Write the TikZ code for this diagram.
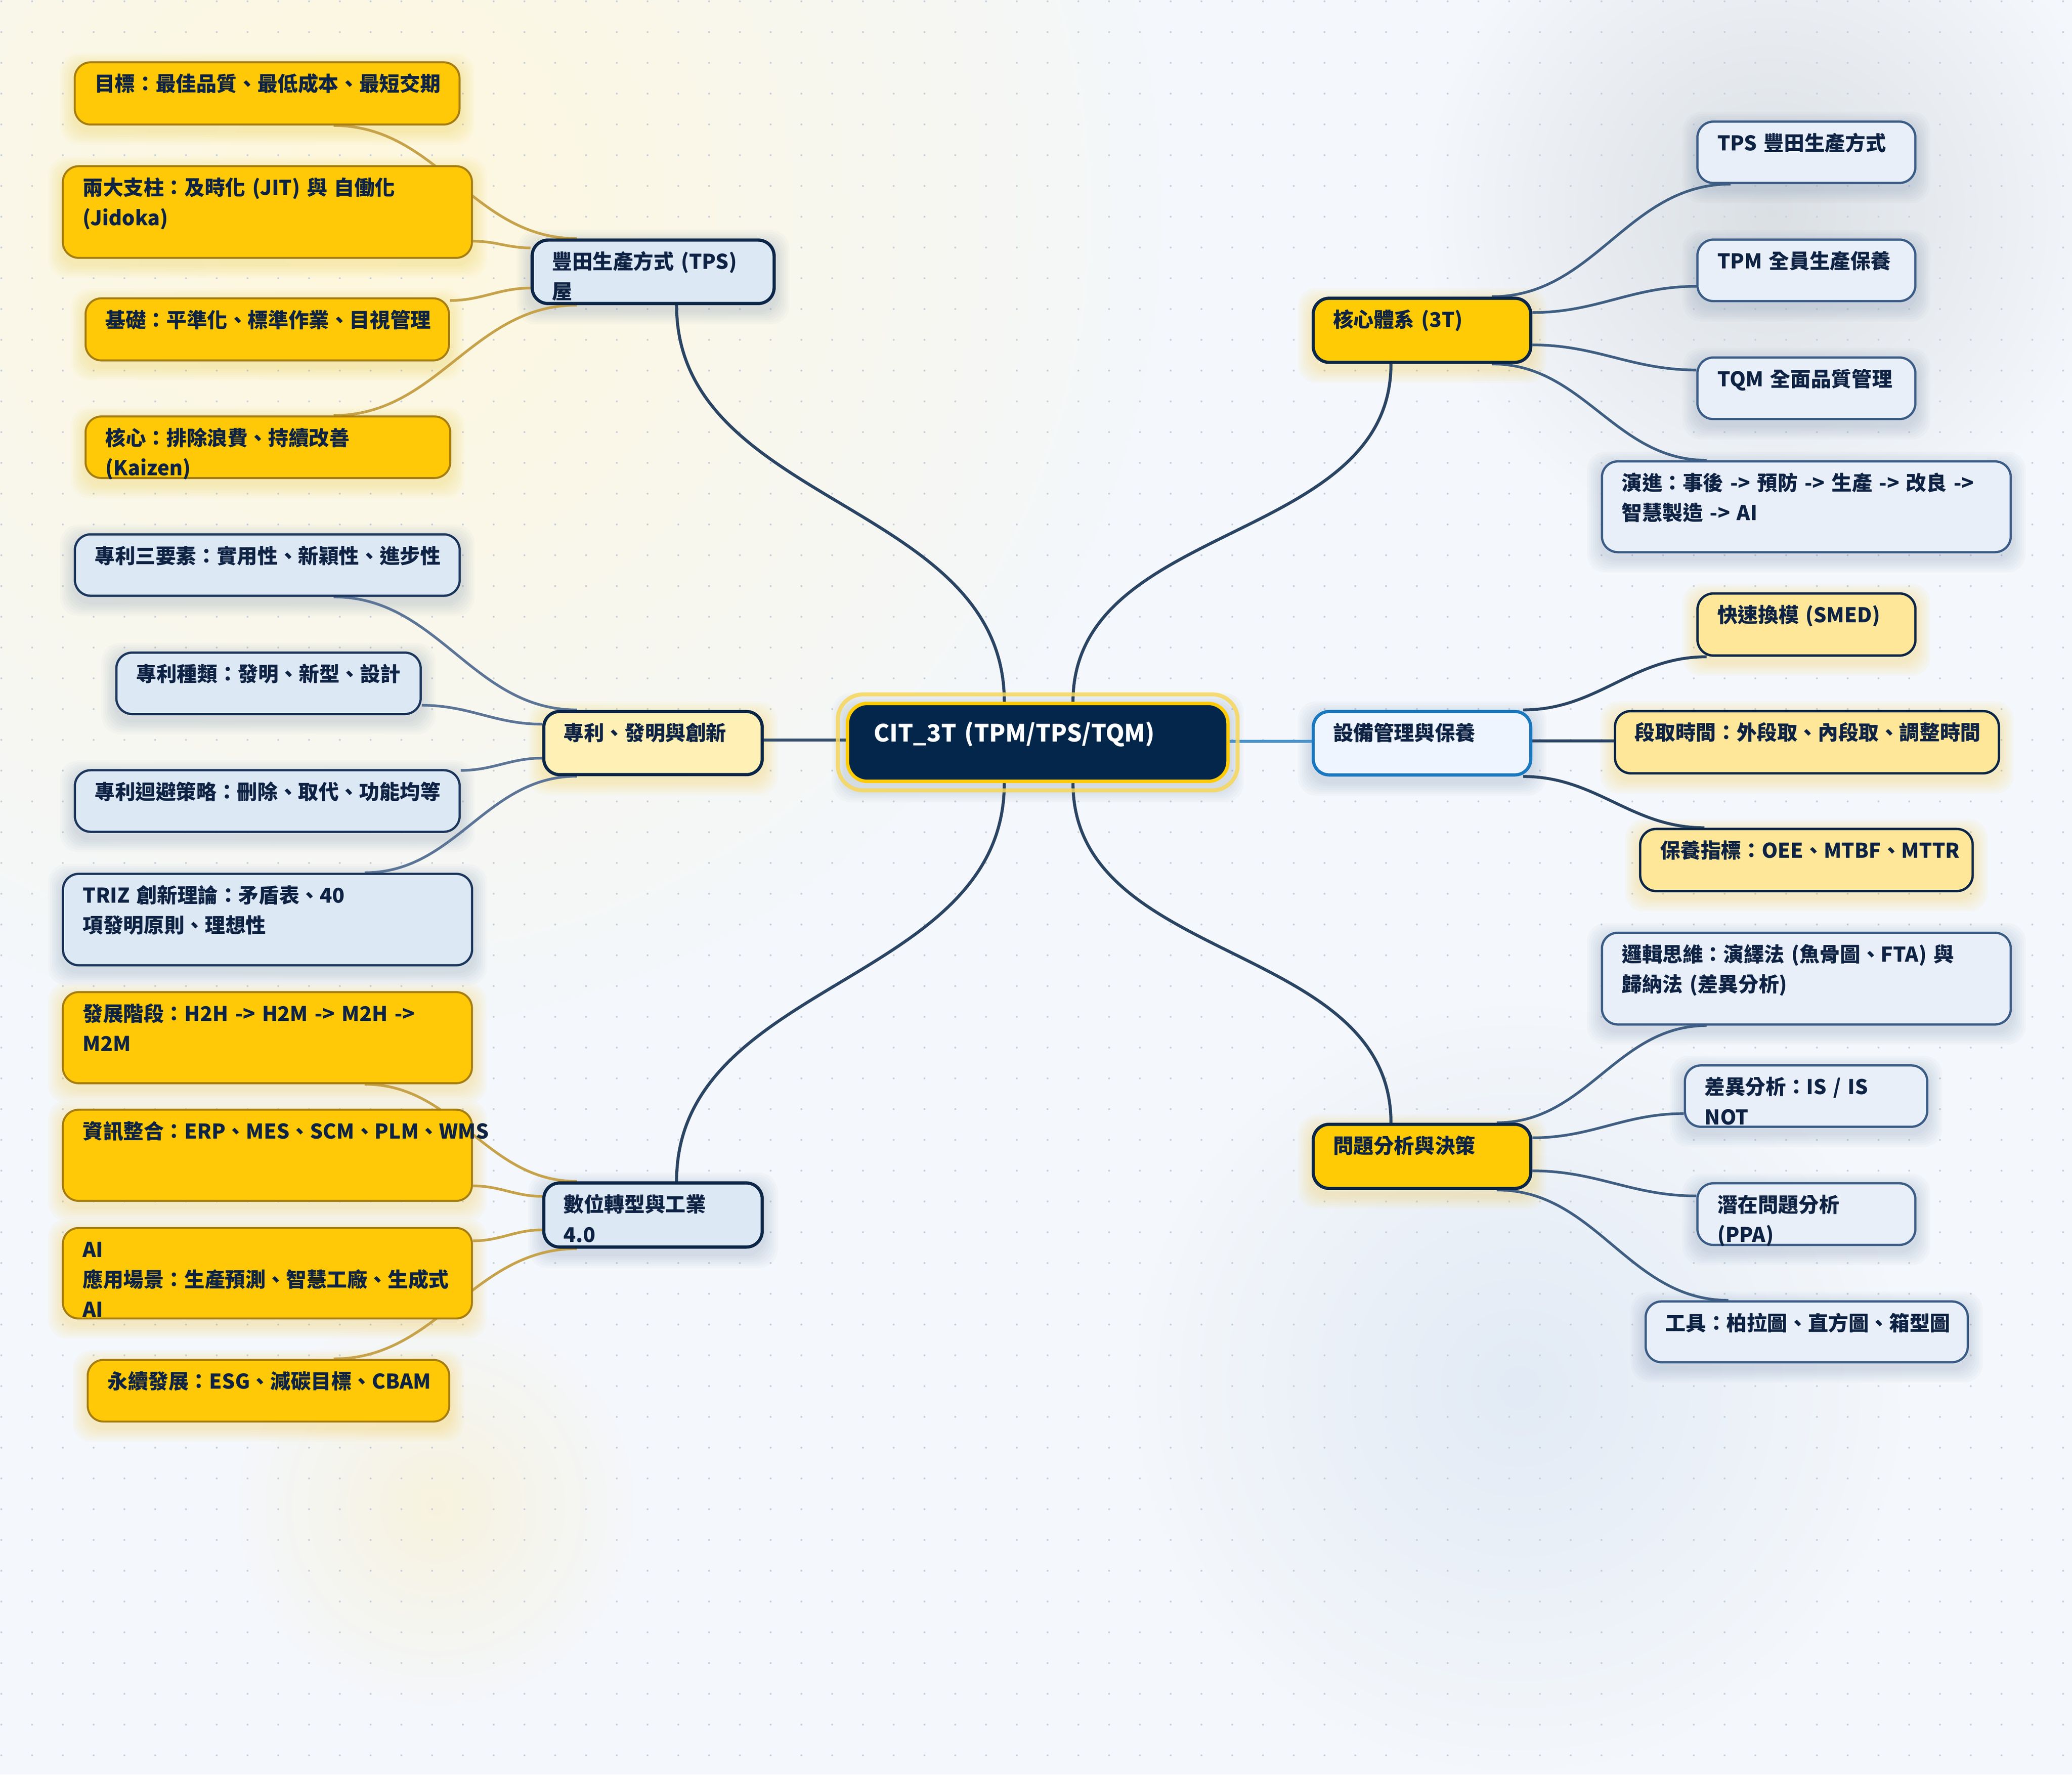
\documentclass[tikz,border=0pt]{standalone}
\usepackage{fontspec}
\setmainfont{Noto Sans CJK TC}
\usetikzlibrary{fadings}
\pgfdeclarelayer{bg}\pgfdeclarelayer{shadow}\pgfdeclarelayer{edges}\pgfdeclarelayer{halo}
\pgfsetlayers{bg,shadow,edges,halo,main}
\definecolor{bgbase}{HTML}{F4F7FB}
\definecolor{glowA}{HTML}{FFF8DC}
\definecolor{glowB}{HTML}{D8DDE1}
\definecolor{glowC}{HTML}{D6E2F1}
\definecolor{glowD}{HTML}{FAF0CC}
\definecolor{navy}{HTML}{0C2647}
\definecolor{txt}{HTML}{0E2344}
\definecolor{gold}{HTML}{FFC907}
\definecolor{goldline}{HTML}{A67D10}
\definecolor{paleyel}{HTML}{FFF0B5}
\definecolor{yelleaf}{HTML}{FFE79A}
\definecolor{paleblue}{HTML}{DDE8F5}
\definecolor{patedge}{HTML}{1C365C}
\definecolor{leafblue}{HTML}{E8EFF8}
\definecolor{leafedge}{HTML}{3B5C86}
\definecolor{equipfill}{HTML}{EEF5FE}
\definecolor{equipedge}{HTML}{1A78BF}
\definecolor{centerfill}{HTML}{03264A}
\definecolor{yellowmain}{HTML}{FFCB05}
\definecolor{halocol}{HTML}{F7D75A}
\definecolor{tanlink}{HTML}{C6A24A}
\definecolor{slatelink}{HTML}{5C7597}
\definecolor{slatetwo}{HTML}{3F5E82}
\definecolor{darkedge}{HTML}{2A4463}
\definecolor{leftlink}{HTML}{37506B}
\definecolor{bluelink}{HTML}{4A93CD}
\definecolor{dotc}{HTML}{C8D0DB}
\definecolor{shblue}{HTML}{6E88AA}
\definecolor{shyel}{HTML}{F5C518}
\tikzfading[name=softglow, inner color=transparent!0, outer color=transparent!100]
\tikzset{
  box/.style={rounded corners=12pt, inner xsep=15pt, inner ysep=0pt, text height=22pt,
    align=left, font=\fontsize{15.4}{22.7}\selectfont\bfseries, text=txt},
  mainbox/.style={box, line width=2.4pt, draw=navy},
  yelmain/.style={mainbox, fill=yellowmain},
  bluemain/.style={mainbox, fill=paleblue},
  patmain/.style={mainbox, fill=paleyel},
  equipmain/.style={mainbox, fill=equipfill, draw=equipedge},
  goldleaf/.style={box, fill=gold, draw=goldline, line width=1.5pt},
  patleaf/.style={box, fill=paleblue, draw=patedge, line width=1.7pt},
  blueleaf/.style={box, fill=leafblue, draw=leafedge, line width=1.7pt},
  yelleafbox/.style={box, fill=yelleaf, draw=navy, line width=1.8pt},
  tanlk/.style={draw=tanlink, line width=2pt},
  slatelk/.style={draw=slatelink, line width=2pt},
  slatetwolk/.style={draw=slatetwo, line width=2pt},
  darklk/.style={draw=darkedge, line width=2.2pt},
  mainlk/.style={draw=darkedge, line width=2.3pt},
}
\newcommand\mbx[7]{\pgfmathsetmacro\tw{#5-30}\pgfmathsetmacro\td{#6-22}%
  \node[#2,anchor=north west,text width=\tw pt,text depth=\td pt] (#1) at (#3,-#4) {#7};}
\newcommand\nsh[2]{\begin{pgfonlayer}{shadow}\foreach \k in {1.5,3,...,10.5}{%
  \fill[#2,opacity=0.035,rounded corners=14pt] ([xshift={-\k*1pt},yshift={(\k-4)*1pt}]#1.north west)
   rectangle ([xshift={\k*1pt},yshift={(-\k-4)*1pt}]#1.south east);}\end{pgfonlayer}}
\begin{document}
\begin{tikzpicture}[x=1pt,y=1pt]
\useasboundingbox (0,0) rectangle (1568,-1343);
\begin{pgfonlayer}{bg}
\fill[bgbase] (0,0) rectangle (1568,-1343);
\fill[glowA, path fading=softglow] (260,-160) circle (620);
\fill[glowB, path fading=softglow, opacity=0.9] (1340,-160) circle (260);
\fill[glowC, path fading=softglow, opacity=0.6] (1150,-1050) circle (290);
\fill[glowD, path fading=softglow, opacity=0.6] (330,-1140) circle (150);
\foreach \i in {0,...,67}{\foreach \j in {0,...,57}{\fill[dotc] (1+\i*23.287,-1-\j*23.287) circle (0.75pt);}}
\end{pgfonlayer}

% center
\node[anchor=north west, fill=centerfill, draw=yellowmain, line width=2.6pt, rounded corners=15pt,
  inner xsep=20pt, inner ysep=0pt, text width=248pt, text height=29pt, text depth=30pt, text=white,
  font=\fontsize{18}{24}\selectfont\bfseries, align=left] (center) at (640,-531) {CIT\_3T (TPM/TPS/TQM)};
\begin{pgfonlayer}{halo}
\draw[halocol, line width=3pt, opacity=0.85, rounded corners=19pt] ([xshift=-6pt,yshift=5.5pt]center.north west) rectangle ([xshift=6pt,yshift=-5.5pt]center.south east);
\end{pgfonlayer}

% main branches
\mbx{house}{bluemain}{401.5}{180.5}{183.1}{48}{\mbox{豐田生產方式 (TPS)}\\\mbox{屋}}
\mbx{core}{yelmain}{992.6}{224.5}{164.6}{48.5}{\mbox{核心體系 (3T)}}
\mbx{patent}{patmain}{410.3}{537.2}{165.3}{47.8}{\mbox{專利、發明與創新}}
\mbx{equip}{equipmain}{992.6}{537.2}{164.6}{48}{\mbox{設備管理與保養}}
\mbx{digital}{bluemain}{410.3}{894}{165.3}{48.5}{\mbox{數位轉型與工業}\\\mbox{4.0}}
\mbx{problem}{yelmain}{992.6}{849.6}{164.6}{48.5}{\mbox{問題分析與決策}}

% TPS leaves
\mbx{t1}{goldleaf}{55.8}{46.4}{291.2}{47.1}{\mbox{目標：最佳品質、最低成本、最短交期}}
\mbx{t2}{goldleaf}{46.8}{125}{309.6}{69.4}{\mbox{兩大支柱：及時化 (JIT) 與 自働化}\\\mbox{(Jidoka)}}
\mbx{t3}{goldleaf}{64}{225}{275}{47}{\mbox{基礎：平準化、標準作業、目視管理}}
\mbx{t4}{goldleaf}{64}{314.4}{276}{46.6}{\mbox{核心：排除浪費、持續改善}\\\mbox{(Kaizen)}}
% patent leaves
\mbx{p1}{patleaf}{55.8}{403.5}{291.2}{46.5}{\mbox{專利三要素：實用性、新穎性、進步性}}
\mbx{p2}{patleaf}{87.2}{493}{230.3}{46.5}{\mbox{專利種類：發明、新型、設計}}
\mbx{p3}{patleaf}{55.8}{582}{291.2}{46.6}{\mbox{專利迴避策略：刪除、取代、功能均等}}
\mbx{p4}{patleaf}{46.8}{660.4}{309.6}{69.2}{\mbox{TRIZ 創新理論：矛盾表、40}\\\mbox{項發明原則、理想性}}
% digital leaves
\mbx{d1}{goldleaf}{46.8}{750}{309.6}{69}{\mbox{發展階段：H2H -> H2M -> M2H ->}\\\mbox{M2M}}
\mbx{d2}{goldleaf}{46.8}{839}{309.6}{69}{\mbox{資訊整合：ERP、MES、SCM、PLM、WMS}}
\mbx{d3}{goldleaf}{46.8}{928.5}{309.6}{68.5}{\mbox{AI}\\\mbox{應用場景：生產預測、智慧工廠、生成式}\\\mbox{AI}}
\mbx{d4}{goldleaf}{65.6}{1028.3}{273.6}{46.7}{\mbox{永續發展：ESG、減碳目標、CBAM}}
% 3T leaves
\mbx{r1}{blueleaf}{1283.7}{91.2}{164.9}{46.4}{\mbox{TPS 豐田生產方式}}
\mbx{r2}{blueleaf}{1283.7}{180.5}{164.9}{46.5}{\mbox{TPM 全員生產保養}}
\mbx{r3}{blueleaf}{1283.7}{269.7}{164.9}{46.6}{\mbox{TQM 全面品質管理}}
\mbx{r4}{blueleaf}{1211.4}{348.3}{309.4}{68.7}{\mbox{演進：事後 -> 預防 -> 生產 -> 改良 ->}\\\mbox{智慧製造 -> AI}}
% equipment leaves
\mbx{e1}{yelleafbox}{1283.7}{448.2}{164.9}{47}{\mbox{快速換模 (SMED)}}
\mbx{e2}{yelleafbox}{1221.2}{537.2}{290.6}{47.1}{\mbox{段取時間：外段取、內段取、調整時間}}
\mbx{e3}{yelleafbox}{1240.3}{626.4}{251.6}{47}{\mbox{保養指標：OEE、MTBF、MTTR}}
% problem leaves
\mbx{q1}{blueleaf}{1211.4}{705}{309.4}{69.4}{\mbox{邏輯思維：演繹法 (魚骨圖、FTA) 與}\\\mbox{歸納法 (差異分析)}}
\mbx{q2}{blueleaf}{1274.2}{805.4}{183.4}{46.4}{\mbox{差異分析：IS / IS}\\\mbox{NOT}}
\mbx{q3}{blueleaf}{1283.7}{894.6}{164.9}{46.6}{\mbox{潛在問題分析}\\\mbox{(PPA)}}
\mbx{q4}{blueleaf}{1244.5}{984}{243.8}{46}{\mbox{工具：柏拉圖、直方圖、箱型圖}}

% shadows
\foreach \n in {house,digital,p1,p2,p3,p4,r1,r2,r3,r4,q1,q2,q3,q4,equip}{\nsh{\n}{shblue}}
\foreach \n in {core,problem,patent,t1,t2,t3,t4,d1,d2,d3,d4,e1,e2,e3}{\nsh{\n}{shyel}}
\nsh{center}{shblue}

\begin{pgfonlayer}{edges}
% center links
\draw[mainlk] ([xshift=110.5pt]house.south west) to[out=-90,in=90] ([xshift=120pt]center.north west);
\draw[mainlk] ([xshift=60pt]core.south west) to[out=-90,in=90] ([xshift=172pt]center.north west);
\draw[mainlk] ([xshift=101.7pt]digital.north west) to[out=90,in=-90] ([xshift=120pt]center.south west);
\draw[mainlk] ([xshift=60pt]problem.north west) to[out=90,in=-90] ([xshift=172pt]center.south west);
\draw[draw=leftlink, line width=2.5pt] ([yshift=-22.8pt]patent.north east) -- ([yshift=-29pt]center.north west);
\draw[draw=bluelink, line width=2.5pt] ([yshift=-30pt]center.north east) -- ([yshift=-23.8pt]equip.north west);
% TPS
\draw[tanlk] ([xshift=196.7pt]t1.south west) to[out=0,in=180] ([xshift=35pt]house.north west);
\draw[tanlk] ([yshift=-57.5pt]t2.north east) to[out=0,in=180] ([yshift=-7.1pt]house.north west);
\draw[tanlk] ([yshift=-2.4pt]t3.north east) to[out=0,in=180] ([yshift=-37.5pt]house.north west);
\draw[tanlk] ([xshift=188.5pt]t4.north west) to[out=0,in=180] ([xshift=35pt]house.south west);
% patent
\draw[slatelk] ([xshift=196.7pt]p1.south west) to[out=0,in=180] ([xshift=26.3pt]patent.north west);
\draw[slatelk] ([yshift=-40.7pt]p2.north east) to[out=0,in=180] ([yshift=-10.8pt]patent.north west);
\draw[slatelk] ([yshift=-1pt]p3.north east) to[out=0,in=180] ([yshift=-36.5pt]patent.north west);
\draw[slatelk] ([xshift=229.2pt]p4.north west) to[out=0,in=180] ([xshift=26.3pt]patent.south west);
% digital
\draw[tanlk] ([xshift=229.2pt]d1.south west) to[out=0,in=180] ([xshift=26.3pt]digital.north west);
\draw[tanlk] ([yshift=-58.4pt]d2.north east) to[out=0,in=180] ([yshift=-11.3pt]digital.north west);
\draw[tanlk] ([yshift=-10.5pt]d3.north east) to[out=0,in=180] ([yshift=-36.7pt]digital.north west);
\draw[tanlk] ([xshift=186.9pt]d4.north west) to[out=0,in=180] ([xshift=26.3pt]digital.south west);
% 3T
\draw[slatetwolk] ([xshift=136.4pt]core.north west) to[out=0,in=180] ([xshift=25.9pt]r1.south west);
\draw[slatetwolk] ([yshift=-12pt]core.north east) to[out=0,in=180] ([yshift=-36.2pt]r2.north west);
\draw[slatetwolk] ([yshift=-36.5pt]core.north east) to[out=0,in=180] ([yshift=-10.3pt]r3.north west);
\draw[slatetwolk] ([xshift=136.4pt]core.south west) to[out=0,in=180] ([xshift=80.1pt]r4.north west);
% equipment
\draw[darklk] ([xshift=160pt]equip.north west) to[out=0,in=180] ([xshift=7.8pt]e1.south west);
\draw[darklk] ([yshift=-23.5pt]equip.north east) -- ([yshift=-23.5pt]e2.north west);
\draw[darklk] ([xshift=160pt]equip.south west) to[out=0,in=180] ([xshift=49.5pt]e3.north west);
% problem
\draw[slatetwolk] ([xshift=140.1pt]problem.north west) to[out=0,in=180] ([xshift=80.1pt]q1.south west);
\draw[slatetwolk] ([yshift=-11.4pt]problem.north east) to[out=0,in=180] ([yshift=-37.3pt]q2.north west);
\draw[slatetwolk] ([yshift=-36.4pt]problem.north east) to[out=0,in=180] ([yshift=-10.4pt]q3.north west);
\draw[slatetwolk] ([xshift=140.1pt]problem.south west) to[out=0,in=180] ([xshift=63.5pt]q4.north west);
\end{pgfonlayer}
\end{tikzpicture}
\end{document}
